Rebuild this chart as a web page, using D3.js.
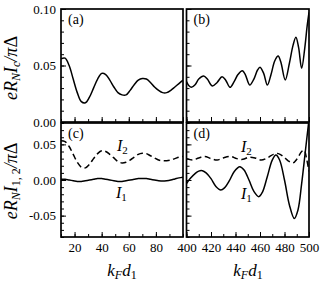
<!DOCTYPE html>
<html>
<head>
<meta charset="utf-8">
<script src="https://cdn.jsdelivr.net/npm/d3@7"></script>
<style>
body { margin: 0; background: #fff; }
text { font-family: "Liberation Serif", "Times New Roman", serif; fill: #000; }
</style>
</head>
<body>
<svg id="chart" width="322" height="282"></svg>
<script>
// values
var leftK = [10, 13, 16, 19, 22, 25, 28, 31, 34, 37, 40, 43, 46, 49, 52, 55, 58, 61, 64, 67, 70, 73, 76, 79, 82, 85, 88, 91, 94, 97, 100]
var icLeft = [0.056, 0.0565, 0.050, 0.038, 0.026, 0.018, 0.017, 0.022, 0.030, 0.038, 0.043, 0.042, 0.037, 0.031, 0.026, 0.024, 0.024, 0.028, 0.033, 0.037, 0.0385, 0.038, 0.035, 0.031, 0.028, 0.026, 0.026, 0.028, 0.031, 0.034, 0.037]
var i1Left = [0.001, 0.001, 0.0, -0.001, -0.002, -0.002, -0.001, 0.0, 0.001, 0.002, 0.002, 0.001, 0.0, -0.001, -0.002, -0.002, -0.001, 0.0, 0.001, 0.002, 0.002, 0.002, 0.001, 0.0, -0.001, -0.0015, -0.001, 0.0, 0.0015, 0.003, 0.004]
var i2Left = [0.055, 0.054, 0.047, 0.036, 0.025, 0.018, 0.017, 0.022, 0.030, 0.037, 0.041, 0.040, 0.036, 0.031, 0.026, 0.024, 0.025, 0.028, 0.032, 0.036, 0.0375, 0.037, 0.034, 0.031, 0.028, 0.027, 0.027, 0.028, 0.030, 0.032, 0.033]

var icRightK = [400, 402, 404, 407, 410, 414, 417, 421, 425, 429, 432, 435.5, 439, 442, 445.6, 448, 451.6, 455, 458, 460, 463, 466, 469, 472, 474.8, 477, 480.6, 484, 487, 489.3, 491.5, 494, 496.5, 498.5, 500]
var icRight = [0.0357, 0.032, 0.0307, 0.033, 0.038, 0.0407, 0.038, 0.0319, 0.035, 0.040, 0.037, 0.0307, 0.036, 0.042, 0.0454, 0.042, 0.0327, 0.038, 0.046, 0.0484, 0.043, 0.0327, 0.042, 0.054, 0.0584, 0.053, 0.0372, 0.052, 0.068, 0.075, 0.066, 0.0475, 0.065, 0.085, 0.097]

var i1RightK = [400, 403, 407, 410, 413, 416, 420, 424, 428, 431, 435, 439, 443.5, 447, 451, 455, 459, 462, 466, 470, 473, 476, 480, 484, 488, 491, 494, 497, 500]
var i1Right = [-0.005, 0.002, 0.009, 0.0125, 0.013, 0.010, 0.002, -0.009, -0.014, -0.011, -0.001, 0.012, 0.0187, 0.014, 0.0, -0.016, -0.0234, -0.017, 0.005, 0.028, 0.035, 0.028, 0.0, -0.035, -0.054, -0.042, -0.005, 0.040, 0.085]

var i2RightK = [400, 405, 410, 415, 420, 425, 430, 436, 441, 446, 451, 456, 461, 466, 471, 475, 479, 483, 487, 490, 494, 496, 498, 500]
var i2Right = [0.030, 0.028, 0.031, 0.033, 0.030, 0.028, 0.031, 0.033, 0.030, 0.029, 0.032, 0.031, 0.028, 0.031, 0.036, 0.037, 0.033, 0.027, 0.024, 0.029, 0.040, 0.042, 0.030, 0.012]

var leftTicks = [20, 40, 60, 80, 100]
var rightTicks = [400, 420, 440, 460, 480, 500]
var topTicks = [0, 0.05, 0.10]
var bottomTicks = [-0.05, 0, 0.05]

var svg = d3.select("#chart")
var serif = "'Liberation Serif', 'Times New Roman', serif"

// panel geometry
var xLeft = d3.scaleLinear().domain([10, 100]).range([61, 183])
var xRight = d3.scaleLinear().domain([400, 500]).range([186.5, 309])
var yTop = d3.scaleLinear().domain([0, 0.10]).range([122, 9])
var yBottom = d3.scaleLinear().domain([-0.08, 0.08]).range([237, 123])

var fmt = d3.format(".2f")

function panel(name, x, y, xMinor, xMajor, xLabels, yMinor, yMajor, yLabels) {
  var g = svg.append("g")
  var x0 = x.range()[0], x1 = x.range()[1]
  var y0 = y.range()[1], y1 = y.range()[0]

  g.append("clipPath").attr("id", "clip" + name)
    .append("rect").attr("x", x0).attr("y", y0).attr("width", x1 - x0).attr("height", y1 - y0)

  // inward ticks on the bottom edge
  g.append("g").attr("transform", "translate(0," + y1 + ")")
    .call(d3.axisBottom(x).tickValues(xMinor).tickSize(-3).tickFormat(""))
  g.append("g").attr("transform", "translate(0," + y1 + ")")
    .call(d3.axisBottom(x).tickValues(xMajor).tickSize(-5).tickPadding(6)
      .tickFormat(xLabels ? d3.format("d") : ""))
  // inward ticks on the left edge
  g.append("g").attr("transform", "translate(" + x0 + ",0)")
    .call(d3.axisLeft(y).tickValues(yMinor).tickSize(-3).tickFormat(""))
  g.append("g").attr("transform", "translate(" + x0 + ",0)")
    .call(d3.axisLeft(y).tickValues(yMajor).tickSize(-5).tickPadding(5)
      .tickFormat(yLabels ? function(d) { return d < 0 ? "-" + fmt(-d) : fmt(d) } : ""))

  g.selectAll(".domain").remove()
  g.selectAll("g").attr("font-family", serif).attr("font-size", 13)
  g.selectAll(".tick line").attr("stroke", "#000").attr("stroke-width", 1)

  g.append("rect").attr("x", x0).attr("y", y0).attr("width", x1 - x0).attr("height", y1 - y0)
    .attr("fill", "none").attr("stroke", "#000").attr("stroke-width", 1.7)

  g.append("text").attr("x", x0 + 7).attr("y", y0 + 15).style("font-size", "14px").text("(" + name + ")")

  return g
}

function curve(g, name, x, y, xs, ys, dashed) {
  var line = d3.line().x(function(d, i) { return x(xs[i]) }).y(function(d) { return y(d) })
    .curve(d3.curveCatmullRom.alpha(0.5))
  g.append("path").attr("d", line(ys)).attr("clip-path", "url(#clip" + name + ")")
    .attr("fill", "none").attr("stroke", "#000").attr("stroke-width", 1.5)
    .attr("stroke-dasharray", dashed ? "6,3.5" : null)
}

var minorLeftX = d3.range(10, 101, 10)
var minorRightX = d3.range(400, 501, 10)
var minorTopY = d3.range(0, 0.1001, 0.01)
var minorBottomY = d3.range(-0.08, 0.0801, 0.01)

var pa = panel("a", xLeft, yTop, minorLeftX, leftTicks, false, minorTopY, topTicks, true)
var pb = panel("b", xRight, yTop, minorRightX, rightTicks, false, minorTopY, topTicks, false)
var pc = panel("c", xLeft, yBottom, minorLeftX, leftTicks.slice(0, 4), true, minorBottomY, bottomTicks, true)
var pd = panel("d", xRight, yBottom, minorRightX, rightTicks, true, minorBottomY, bottomTicks, false)

curve(pa, "a", xLeft, yTop, leftK, icLeft, false)
curve(pb, "b", xRight, yTop, icRightK, icRight, false)
curve(pc, "c", xLeft, yBottom, leftK, i1Left, false)
curve(pc, "c", xLeft, yBottom, leftK, i2Left, true)
curve(pd, "d", xRight, yBottom, i1RightK, i1Right, false)
curve(pd, "d", xRight, yBottom, i2RightK, i2Right, true)

// curve names
function curveName(x, y, sub) {
  var t = svg.append("text").attr("x", x).attr("y", y).style("font-size", "16px")
  t.append("tspan").style("font-style", "italic").text("I")
  t.append("tspan").attr("dy", 3).style("font-size", "11px").text(sub)
}
curveName(117, 151, "2")
curveName(116, 198, "1")
curveName(241, 152, "2")
curveName(241, 199, "1")

// axis titles
function yTitle(cx, cy, sub, subItalic) {
  var t = svg.append("text").attr("transform", "translate(" + cx + "," + cy + ") rotate(-90)")
    .attr("text-anchor", "middle").style("font-size", "18px")
  t.append("tspan").style("font-style", "italic").text("eR")
  t.append("tspan").attr("dy", 3).style("font-size", "12px").style("font-style", "italic").text("N")
  t.append("tspan").attr("dy", -3).style("font-style", "italic").text("I")
  t.append("tspan").attr("dy", 3).style("font-size", "12px").style("font-style", subItalic ? "italic" : "normal").text(sub)
  t.append("tspan").attr("dy", -3).style("font-style", "italic").text("/π")
  t.append("tspan").text("Δ")
}
yTitle(17, 68, "c", true)
yTitle(17, 181, "1, 2", false)

function xTitle(cx) {
  var t = svg.append("text").attr("x", cx).attr("y", 276).attr("text-anchor", "middle").style("font-size", "17px")
  t.append("tspan").style("font-style", "italic").text("k")
  t.append("tspan").attr("dy", 3).style("font-size", "12px").style("font-style", "italic").text("F")
  t.append("tspan").attr("dy", -3).style("font-style", "italic").text("d")
  t.append("tspan").attr("dy", 3).style("font-size", "12px").text("1")
}
xTitle(122)
xTitle(248)
</script>
</body>
</html>
